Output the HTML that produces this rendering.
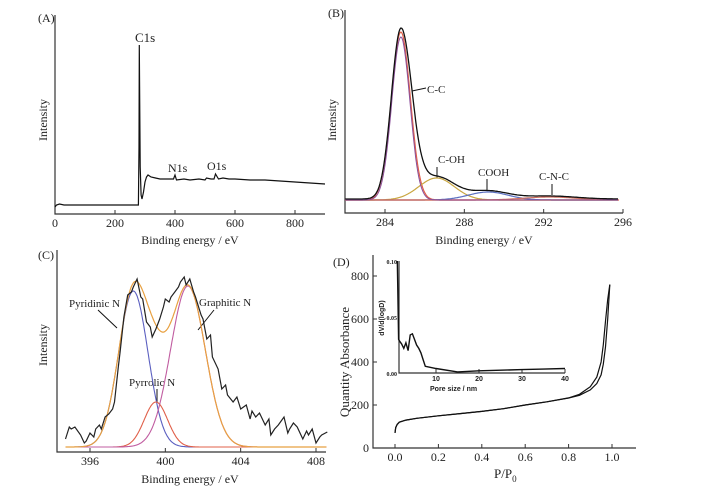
<!DOCTYPE html>
<html><head><meta charset="utf-8">
<style>
html,body{margin:0;padding:0;background:#fff;}
svg, svg text{font-family:"Liberation Serif","DejaVu Serif",serif;}
text{fill:#222;}
.sans{font-family:"Liberation Sans",sans-serif !important;}
</style></head>
<body>
<svg id="fig" width="708" height="490" viewBox="0 0 708 490" xmlns="http://www.w3.org/2000/svg" font-family="Liberation Serif, serif">
<g id="static" font-size="12">
  <text x="38" y="22">(A)</text>
  <text x="135" y="42" font-size="13">C1s</text>
  <text x="168" y="172">N1s</text>
  <text x="207" y="170">O1s</text>
  <text transform="translate(47,120) rotate(-90)" text-anchor="middle">Intensity</text>
  <text x="190" y="244" text-anchor="middle">Binding energy / eV</text>

  <text x="328" y="17">(B)</text>
  <text transform="translate(336,120) rotate(-90)" text-anchor="middle">Intensity</text>
  <text x="484" y="244" text-anchor="middle">Binding energy / eV</text>
  <text x="427" y="93" font-size="11">C-C</text>
  <line x1="412" y1="91" x2="426" y2="88" stroke="#111"/>
  <text x="438" y="163" font-size="11">C-OH</text>
  <line x1="437" y1="167" x2="437" y2="178" stroke="#111"/>
  <text x="478" y="176" font-size="11">COOH</text>
  <line x1="487" y1="179" x2="487" y2="191" stroke="#111"/>
  <text x="539" y="180" font-size="11">C-N-C</text>
  <line x1="552" y1="184" x2="552" y2="195" stroke="#111"/>

  <text x="38" y="259">(C)</text>
  <text transform="translate(47,345) rotate(-90)" text-anchor="middle">Intensity</text>
  <text x="190" y="483" text-anchor="middle">Binding energy / eV</text>
  <text x="69" y="307" font-size="11">Pyridinic N</text>
  <line x1="98" y1="310" x2="117" y2="328" stroke="#111"/>
  <text x="199" y="306" font-size="11">Graphitic N</text>
  <line x1="214" y1="310" x2="198" y2="330" stroke="#111"/>
  <text x="129" y="386" font-size="11">Pyrrolic N</text>
  <line x1="157" y1="389" x2="157" y2="402" stroke="#111"/>

  <text x="333" y="266">(D)</text>
  <text transform="translate(349,362) rotate(-90)" text-anchor="middle" font-size="13">Quantity Absorbance</text>
  <text x="494" y="478" font-size="13">P/P<tspan font-size="9" dy="4">0</tspan></text>
  <text x="430" y="391" font-size="7" font-weight="bold" class="sans">Pore size / nm</text>
  <text transform="translate(384,318) rotate(-90)" text-anchor="middle" font-size="7" font-weight="bold" class="sans">dV/d(logD)</text>
</g>
<g id="plots"></g>
</svg>
<script>
// ---- Panel A data (survey) ----
const surveyEnergy = [0,5,15,30,100,200,278,280,281,282,284,287,290,295,300,305,310,320,335,350,370,395,400,405,430,450,480,500,505,520,530,535,545,560,580,600,650,700,750,800,850,900];
const surveyIntensity = [0,2,3,2,2,2,2,60,162,120,40,12,8,15,25,30,32,30,29,28,28,28,32,27,28,27,28,27,29,28,28,33,28,29,28,28,27,27,26,25,24,23];
const surveyTicks = [0,200,400,600,800];
// ---- Panel B data (C1s fit) ----
const c1sCenters = [284.8, 286.6, 289.2, 292.3];
const c1sHeights = [168, 22, 8, 3];
const c1sWidths = [0.48, 0.9, 1.0, 1.3];
const c1sColors = ['#e0604a','#c9a640','#5a6fc0','#d07060'];
const c1sTicks = [284,288,292,296];
// ---- Panel C data (N1s) ----
const n1sEnergy = [394.7,394.9,395.0,395.2,395.5,395.7,395.8,396.0,396.2,396.3,396.5,396.6,396.8,397.0,397.2,397.3,397.5,397.6,397.8,398.0,398.2,398.3,398.5,398.7,398.8,399.0,399.2,399.3,399.5,399.7,399.9,400.0,400.2,400.3,400.5,400.7,400.8,401.0,401.1,401.3,401.5,401.6,401.9,402.0,402.2,402.4,402.5,402.8,403.0,403.2,403.3,403.6,403.8,404.0,404.3,404.5,404.6,404.8,405.0,405.3,405.5,405.6,405.8,406.0,406.3,406.5,406.6,406.8,407.0,407.3,407.5,407.6,407.8,408.0,408.2,408.3,408.6];
const n1sIntensity = [8,20,18,20,12,4,6,14,10,18,22,18,30,33,38,45,80,95,130,152,155,160,168,150,148,125,120,110,118,128,140,148,145,150,155,160,165,170,162,168,155,150,132,128,108,112,90,78,58,62,52,45,50,38,42,28,36,30,34,22,28,12,18,22,30,14,18,24,20,8,16,12,18,4,10,12,15];
const n1sCenters = [398.3, 399.5, 401.2];
const n1sHeights = [156, 45, 161];
const n1sWidths = [0.78, 0.62, 0.92];
const n1sColors = ['#5b5fc0','#e0604a','#c05ca0'];
const n1sTicks = [396,400,404,408];
// ---- Panel D data (isotherm) ----
const isoP = [0.0,0.003,0.01,0.02,0.05,0.1,0.2,0.3,0.4,0.5,0.6,0.7,0.8,0.85,0.9,0.93,0.95,0.96,0.97,0.98,0.99];
const isoAdsorb = [70,95,110,120,130,138,150,160,170,183,200,215,232,245,270,300,340,390,470,600,760];
const isoDesorb = [70,95,110,120,130,138,150,160,170,183,200,215,233,250,285,330,400,480,590,690,760];
const isoYTicks = [0,200,400,600,800];
const isoXTicks = [0.0,0.2,0.4,0.6,0.8,1.0];
const poreSize = [1.0,1.1,1.3,1.6,2.0,2.5,3.0,3.5,4.0,4.5,5.0,5.5,6.0,6.5,7.0,7.5,10,15,20,25,30,35,40];
const poreVolume = [0.100,0.08,0.03,0.028,0.026,0.022,0.027,0.020,0.034,0.035,0.030,0.025,0.022,0.018,0.012,0.006,0.004,0.001,0.002,0.0025,0.003,0.0035,0.004];
const poreXTicks = [10,20,30,40];
const poreYTicks = [0.00,0.05,0.10];

const NS='http://www.w3.org/2000/svg';
const plots=document.getElementById('plots');
function mk(tag,attrs,parent){const e=document.createElementNS(NS,tag);for(const k in attrs)e.setAttribute(k,attrs[k]);(parent||plots).appendChild(e);return e;}
function lin(d0,d1,r0,r1){return v=>r0+(v-d0)*(r1-r0)/(d1-d0);}
function pathD(xs,ys,sx,sy){return xs.map((x,i)=>(i?'L':'M')+sx(x).toFixed(1)+' '+sy(ys[i]).toFixed(1)).join(' ');}
function gauss(x,c,h,w){return h*Math.exp(-0.5*((x-c)/w)**2);}
function axes(x0,y0,x1,y1,ticks,sx,fmt,size,cls){
  const a=mk('path',{d:`M${x0} ${y0} L${x0} ${y1} L${x1} ${y1}`,fill:'none',stroke:'#333','stroke-width':1.2});
  
  
  ticks.forEach((t,i)=>{
    const tk=mk('line',{x1:sx(t),x2:sx(t),y1:y1,y2:y1-4,stroke:'#333'});
    
    
    const tl=mk('text',{x:sx(t),y:y1+(size||12)+1,'text-anchor':'middle','font-size':size||12});
    if(cls){tl.setAttribute('class',cls);tl.setAttribute('font-weight','bold');}
    tl.textContent=fmt?fmt(t):t;
    
    
  });
}
// Panel A
{const sx=lin(0,200,55,115), sy=lin(0,100,207,107);
 axes(55,15,325,214,surveyTicks,sx,null,12);
 const p=mk('path',{d:pathD(surveyEnergy,surveyIntensity,sx,sy),fill:'none',stroke:'#111','stroke-width':1.2});
 
 }
// Panel B
{const sx=lin(284,296,385,623), sy=lin(0,100,200,100);
 axes(345,10,623,213,c1sTicks,sx,null,12);
 const xs=[];for(let x=282;x<=295.8;x+=0.05)xs.push(x);
 const bl=mk('line',{x1:345,x2:sx(295.8),y1:sy(0),y2:sy(0),stroke:'#e0604a','stroke-width':1.2});
 
 
 c1sCenters.forEach((c,i)=>{
   const p=mk('path',{d:pathD(xs,xs.map(x=>gauss(x,c,c1sHeights[i],c1sWidths[i])),sx,sy),fill:'none',stroke:c1sColors[i],'stroke-width':1.2});
   
   
 });
 const pu=mk('path',{d:pathD(xs,xs.map(x=>gauss(x,c1sCenters[0],c1sHeights[0]*0.97,c1sWidths[0]*0.95)),sx,sy),fill:'none',stroke:'#8a4f9a','stroke-width':1});
 
 
 const env=mk('path',{d:pathD(xs,xs.map(x=>c1sCenters.reduce((s,c,i)=>s+gauss(x,c,c1sHeights[i],c1sWidths[i]*(i==0&&x>c?1.15:1)),0)+1),sx,sy),fill:'none',stroke:'#111','stroke-width':1.3});
 
 }
// Panel C
{const sx=lin(396,408,90,316), sy=lin(0,100,447,347);
 axes(57,250,326,452,n1sTicks,sx,null,12);
 const xs=[];for(let x=394.7;x<=408.6;x+=0.05)xs.push(x);
 n1sCenters.forEach((c,i)=>{
   const p=mk('path',{d:pathD(xs,xs.map(x=>gauss(x,c,n1sHeights[i],n1sWidths[i])),sx,sy),fill:'none',stroke:n1sColors[i],'stroke-width':1.1});
   
   
 });
 const env=mk('path',{d:pathD(xs,xs.map(x=>n1sCenters.reduce((s,c,i)=>s+gauss(x,c,n1sHeights[i],n1sWidths[i]),0)),sx,sy),fill:'none',stroke:'#e8a040','stroke-width':1.2});
 
 
 const d=mk('path',{d:pathD(n1sEnergy,n1sIntensity,sx,sy),fill:'none',stroke:'#222','stroke-width':1.2});
 
 }
// Panel D
{const sx=lin(0,1,395,612), sy=lin(0,800,448,276);
 axes(373,255,636,448,isoXTicks,sx,t=>t.toFixed(1),12);
 isoYTicks.forEach(t=>{
   const tk=mk('line',{x1:373,x2:377,y1:sy(t),y2:sy(t),stroke:'#333'});
   
   
   const tl=mk('text',{x:369,y:sy(t)+4,'text-anchor':'end','font-size':12});
   tl.textContent=t;
   
   
 });
 const a=mk('path',{d:pathD(isoP,isoAdsorb,sx,sy),fill:'none',stroke:'#111','stroke-width':1.2});
 
 
 const b=mk('path',{d:pathD(isoP,isoDesorb,sx,sy),fill:'none',stroke:'#111','stroke-width':1.2});
 
 
 // inset
 const ix=lin(10,40,436,565), iy=lin(0,0.1,373,261);
 axes(399,261,565,373,poreXTicks,ix,null,7,'sans');
 poreYTicks.forEach(t=>{
   const tl=mk('text',{x:397,y:iy(t)+3,'text-anchor':'end','font-size':6,'font-weight':'bold'});
   tl.textContent=t.toFixed(2);
   
   
 });
 const ip=mk('path',{d:pathD(poreSize,poreVolume,ix,iy),fill:'none',stroke:'#111','stroke-width':1.4});
 
 }
</script>
</body></html>
